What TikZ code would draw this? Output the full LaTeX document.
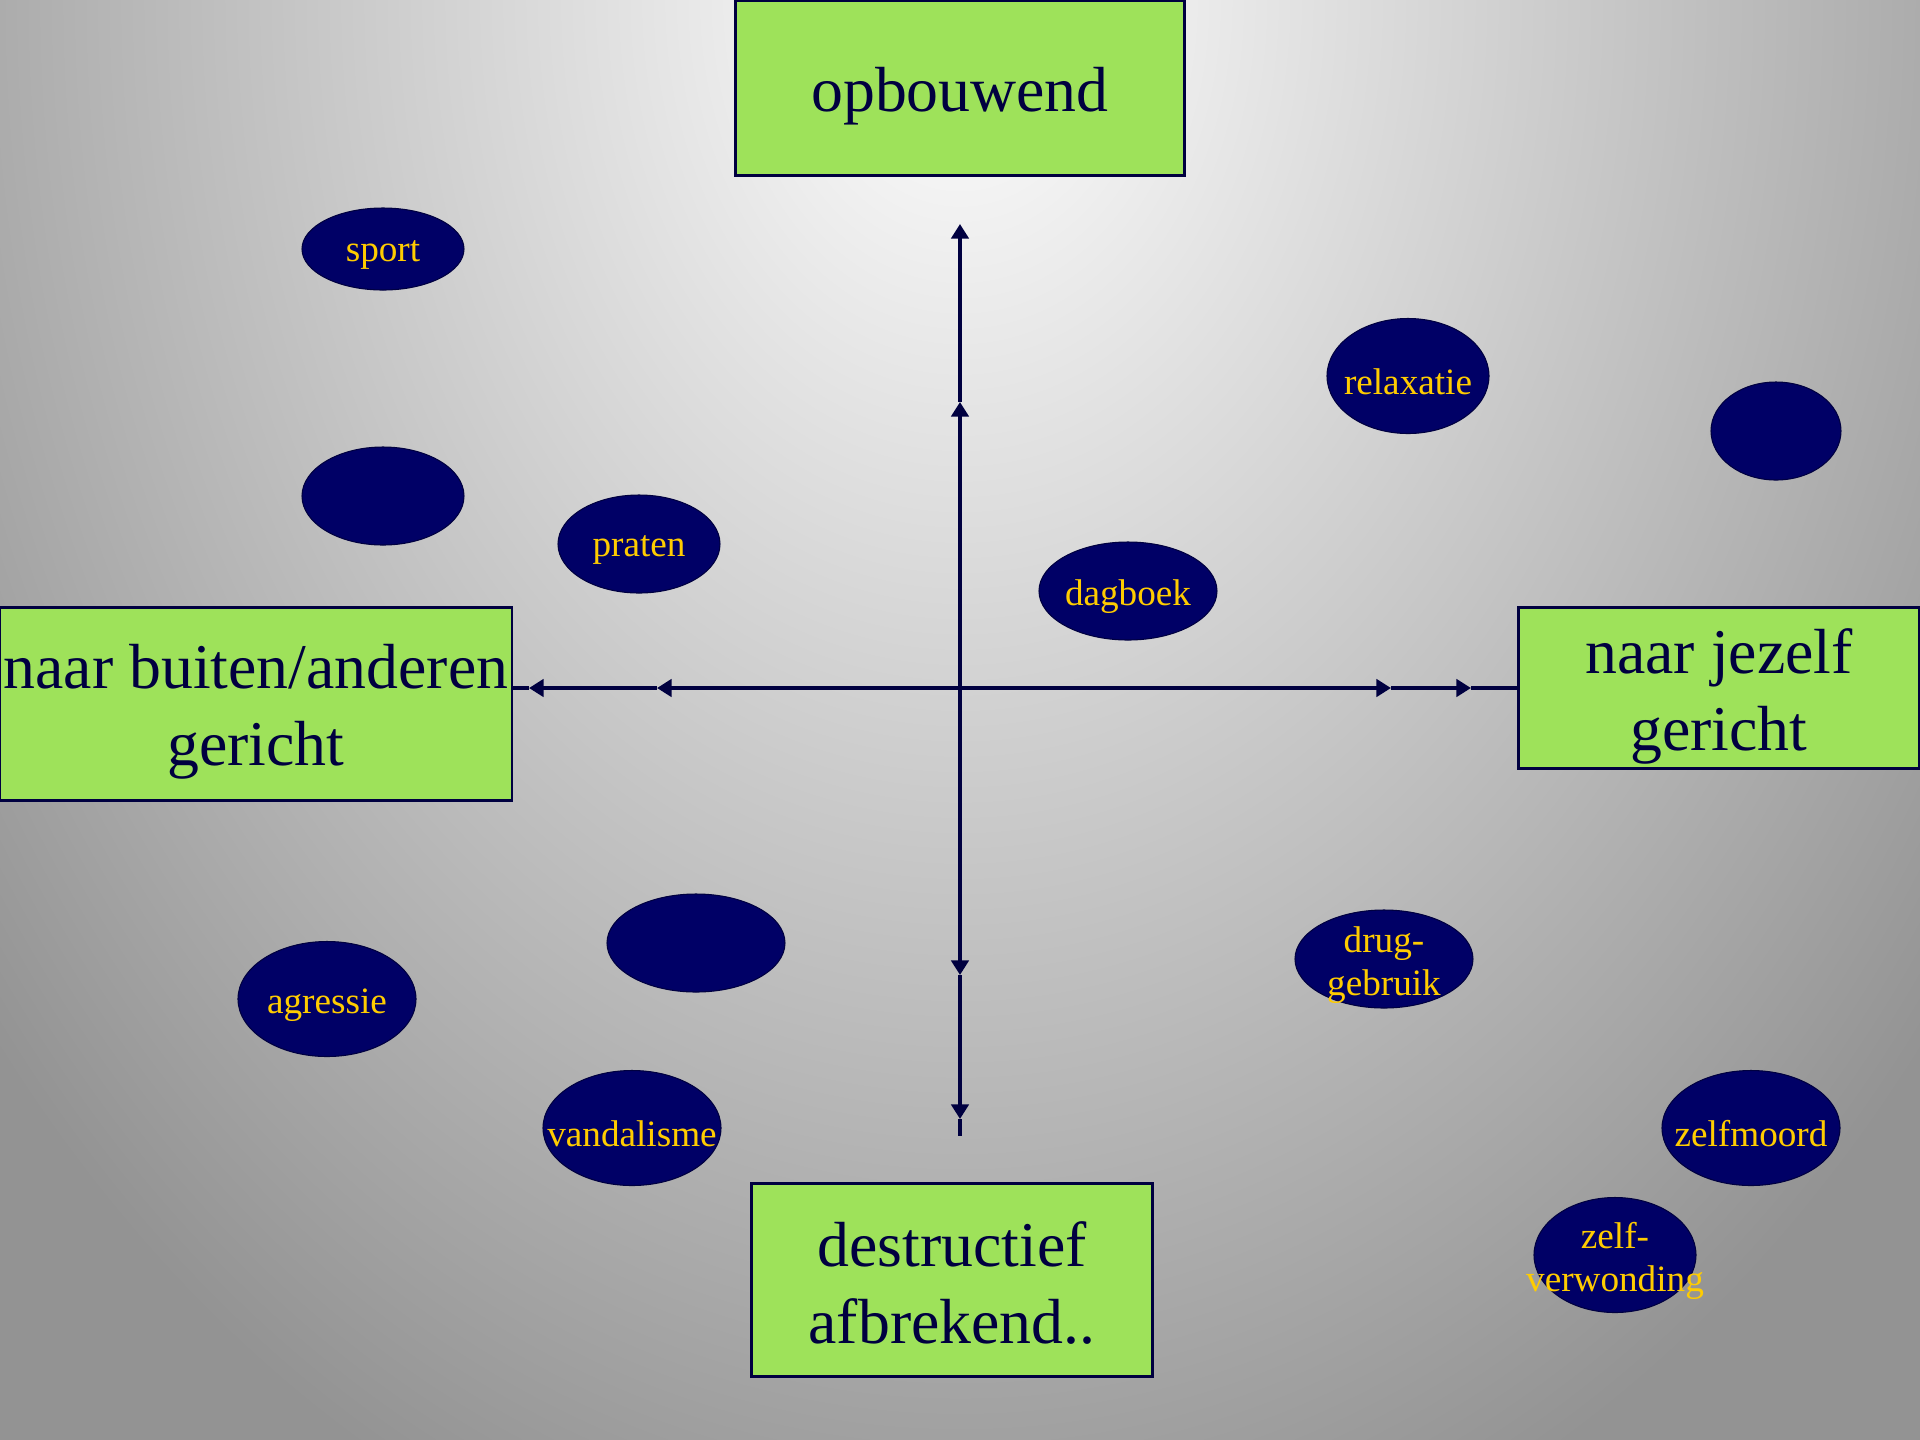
\documentclass[tikz,border=0pt]{standalone}
\usepackage{fontspec}
\setmainfont{Liberation Serif}
\usetikzlibrary{arrows.meta}
\usetikzlibrary{shapes}

\newlength\pxu
\setlength\pxu{0.13229mm}
\definecolor{boxgreen}{RGB}{158,226,90}
\definecolor{inkblue}{RGB}{0,0,64}
\definecolor{bubblenavy}{RGB}{0,0,102}
\definecolor{labelgold}{RGB}{255,204,0}
\definecolor{bggray}{RGB}{147,147,147}

\begin{document}
\begin{tikzpicture}[x=\pxu, y=-\pxu]
	\tikzstyle{boxStyle}=[shape = rectangle, draw = inkblue, line width = 1pt, fill = boxgreen, inner sep = 0pt]
	\tikzstyle{boxText}=[text = inkblue, font = \fontsize{24}{29}\selectfont, align = center, inner sep = 0pt, yshift = -8\pxu]
	\tikzstyle{bubbleStyle}=[shape = ellipse, draw = inkblue, line width = 0.4pt, fill = bubblenavy, inner sep = 0pt]
	\tikzstyle{bubbleText}=[text = labelgold, font = \fontsize{14}{16}\selectfont, align = center, inner sep = 0pt, yshift = -6\pxu]
	\tikzstyle{axisStyle}=[draw = inkblue, line width = 1.4pt, -{Triangle[length = 5.5pt, width = 6.5pt]}]
	\tikzstyle{axisEnd}=[draw = inkblue, line width = 1.4pt]
	% background
	\useasboundingbox (0,0) rectangle (1920,1440);
	\begin{scope}
		\clip (0,0) rectangle (1920,1440);
		\fill[bggray] (0,0) rectangle (1920,1440);
		\shade[inner color = white, outer color = bggray] (960,0) ellipse [x radius = 1250\pxu, y radius = 1650\pxu];
	\end{scope}
	% boxes
	\node[boxStyle, minimum width = 449\pxu, minimum height = 175\pxu, label = {[boxText]center:opbouwend}] (boven) at (960,88) {};
	\node[boxStyle, minimum width = 512\pxu, minimum height = 193\pxu, label = {[boxText]center:{naar buiten/anderen\\gericht}}] (links) at (256,704) {};
	\node[boxStyle, minimum width = 401\pxu, minimum height = 161\pxu, label = {[boxText]center:{naar jezelf\\gericht}}] (rechts) at (1719,688) {};
	\node[boxStyle, minimum width = 401\pxu, minimum height = 193\pxu, label = {[boxText, yshift = 5\pxu]center:{destructief\\afbrekend..}}] (onder) at (952,1280) {};
	% axes
	\coordinate (O) at (960,688);
	\coordinate (u1) at (960,402);
	\coordinate (u2) at (960,224);
	\coordinate (d1) at (960,975);
	\coordinate (d2) at (960,1119);
	\coordinate (d3) at (960,1136);
	\coordinate (l1) at (657,688);
	\coordinate (l2) at (529,688);
	\coordinate (r1) at (1391,688);
	\coordinate (r2) at (1471,688);
	\draw[axisStyle] (O) -- (u1);
	\draw[axisStyle] (u1) -- (u2);
	\draw[axisStyle] (O) -- (d1);
	\draw[axisStyle] (d1) -- (d2);
	\draw[axisEnd] (d2) -- (d3);
	\draw[axisStyle] (O) -- (l1);
	\draw[axisStyle] (l1) -- (l2);
	\draw[axisEnd] (l2) -- (l2 -| links.east);
	\draw[axisStyle] (O) -- (r1);
	\draw[axisStyle] (r1) -- (r2);
	\draw[axisEnd] (r2) -- (r2 -| rechts.west);
	% bubbles
	\node[bubbleStyle, minimum width = 162\pxu, minimum height = 82\pxu, label = {[bubbleText]center:sport}] (sport) at (383,249) {};
	\node[bubbleStyle, minimum width = 162\pxu, minimum height = 98\pxu] (leeg1) at (383,496) {};
	\node[bubbleStyle, minimum width = 162\pxu, minimum height = 98\pxu, label = {[bubbleText]center:praten}] (praten) at (639,544) {};
	\node[bubbleStyle, minimum width = 162\pxu, minimum height = 115\pxu, label = {[bubbleText]center:relaxatie}] (relax) at (1408,376) {};
	\node[bubbleStyle, minimum width = 130\pxu, minimum height = 98\pxu] (leeg2) at (1776,431) {};
	\node[bubbleStyle, minimum width = 178\pxu, minimum height = 98\pxu, label = {[bubbleText]center:dagboek}] (dagboek) at (1128,591) {};
	\node[bubbleStyle, minimum width = 178\pxu, minimum height = 98\pxu] (leeg3) at (696,943) {};
	\node[bubbleStyle, minimum width = 178\pxu, minimum height = 115\pxu, label = {[bubbleText]center:agressie}] (agressie) at (327,999) {};
	\node[bubbleStyle, minimum width = 178\pxu, minimum height = 115\pxu, label = {[bubbleText]center:vandalisme}] (vandal) at (632,1128) {};
	\node[bubbleStyle, minimum width = 178\pxu, minimum height = 98\pxu, label = {[bubbleText]center:{drug-\\gebruik}}] (drugs) at (1384,959) {};
	\node[bubbleStyle, minimum width = 178\pxu, minimum height = 115\pxu, label = {[bubbleText]center:zelfmoord}] (zelfmoord) at (1751,1128) {};
	\node[bubbleStyle, minimum width = 162\pxu, minimum height = 115\pxu, label = {[bubbleText]center:{zelf-\\verwonding}}] (verwond) at (1615,1255) {};
\end{tikzpicture}
\end{document}
